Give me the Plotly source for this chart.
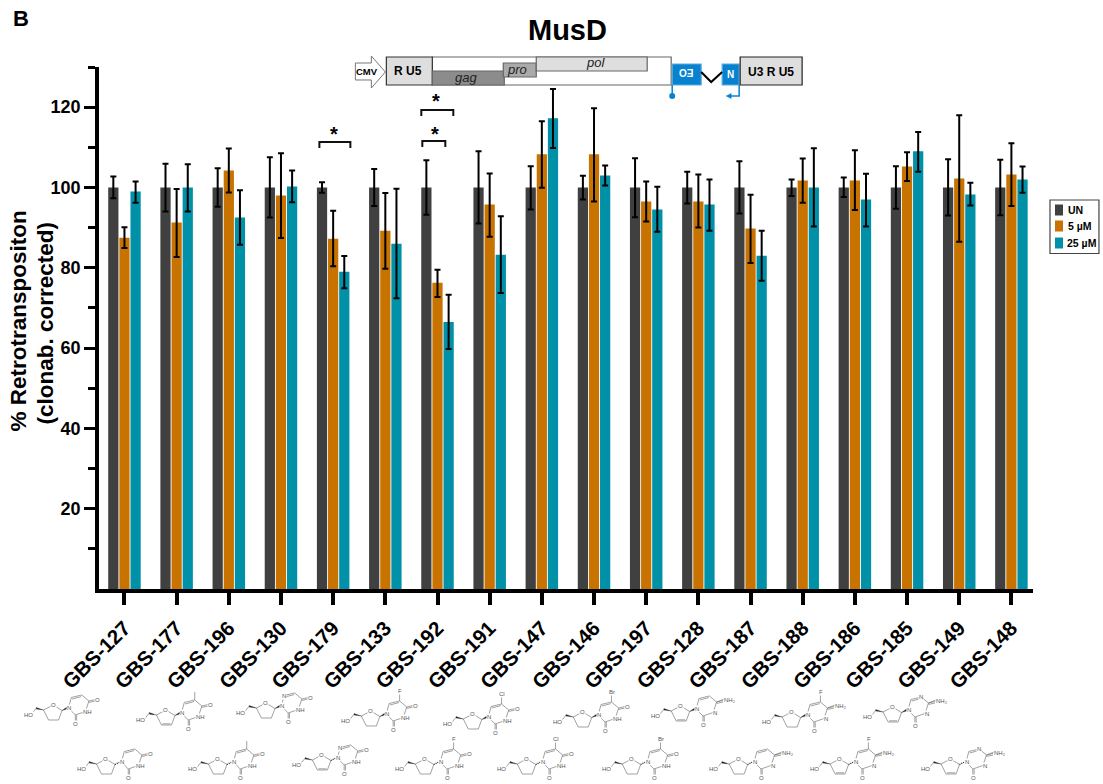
import plotly.graph_objects as go

W, H = 1103, 784
ML, MR, MT, MB = 98.5, 70, 67, 195
compounds = ["GBS-127","GBS-177","GBS-196","GBS-130","GBS-179","GBS-133","GBS-192","GBS-191","GBS-147",
             "GBS-146","GBS-197","GBS-128","GBS-187","GBS-188","GBS-186","GBS-185","GBS-149","GBS-148"]
un_values = [100]*18
un_top = [102.7,105.9,104.8,107.5,101.3,104.6,106.8,109,105.3,102.9,107.3,103.9,106.5,102,102.5,105.3,107,106.9]
un_bot = [97.3,94,95.2,92.5,98.7,95.4,93.2,91,94.5,97,92.6,96,93.5,97.9,97.6,94.7,93,93.1]
low_values = [87.5,91.25,104.25,98,87.25,89.25,76.25,95.75,108.25,108.25,96.5,96.5,89.75,101.75,101.75,105.25,102.25,103.25]
low_top = [90.1,99.6,109.7,108.5,94.2,98.6,79.5,103.5,116.5,119.75,101.5,103.25,98.2,107.2,109.25,108.8,118,111]
low_bot = [84.9,82.7,98.75,87.4,80.4,79.75,72.7,87.75,99.9,96.5,91.5,90,81.2,96.2,94.4,101.6,86.5,95.4]
high_values = [99,100,92.5,100.25,79,86,66.5,83.25,117.25,103,94.5,95.75,83,100,97,109,98.25,102]
high_top = [101.5,105.75,99.3,104.25,82.9,99.7,73.3,92.8,124.5,105.5,100.2,102,89.2,109.75,103.4,113.8,101.2,105.2]
high_bot = [96.2,94,85.75,96.3,74.9,72.4,59.8,73.7,109.8,100.5,89,89.25,76.75,90.25,90.3,103.9,95.5,98.7]
major_ticks = [20,40,60,80,100,120]
minor_ticks = [10,30,50,70,90,110,130]
series_names = ["UN","5 µM","25 µM"]
series_colors = ["#404040","#C87300","#0090A8"]

FONT = "Liberation Sans, Arial, sans-serif"
fig = go.Figure()
for name, color, vals, top, bot in zip(series_names, series_colors,
        [un_values, low_values, high_values], [un_top, low_top, high_top], [un_bot, low_bot, high_bot]):
    fig.add_bar(x=list(range(18)), y=vals, name=name, marker=dict(color=color, line=dict(width=0)),
                error_y=dict(type="data", symmetric=False,
                             array=[round(t-v,2) for t,v in zip(top,vals)],
                             arrayminus=[round(v-b,2) for b,v in zip(bot,vals)],
                             color="black", thickness=2, width=3))

shapes, anns = [], []
def X(p): return (p-ML)/(W-ML-MR)
def Y(p): return 1-(p-MT)/(H-MT-MB)
def rect(x0,y0,x1,y1,fill,line="#555",lw=1.2):
    shapes.append(dict(type="rect",xref="paper",yref="paper",x0=X(x0),x1=X(x1),y0=Y(y0),y1=Y(y1),
                       fillcolor=fill,line=dict(color=line,width=lw)))
def path(pts,color="black",lw=1.5,fill=None,close=False,dash=None):
    d="M"+" L".join(f"{X(a):.5f},{Y(b):.5f}" for a,b in pts)+(" Z" if close else "")
    s=dict(type="path",xref="paper",yref="paper",path=d,line=dict(color=color,width=lw))
    if fill: s["fillcolor"]=fill
    if dash: s["line"]["dash"]=dash
    shapes.append(s)
def text(x,y,t,size=12,color="black",bold=True,italic=False,bg=None,angle=0):
    if bold: t=f"<b>{t}</b>"
    if italic: t=f"<i>{t}</i>"
    a=dict(x=X(x),y=Y(y),xref="paper",yref="paper",text=t,showarrow=False,xanchor="center",yanchor="middle",
           font=dict(family=FONT,size=size,color=color),textangle=angle,borderpad=0)
    if bg: a["bgcolor"]=bg
    anns.append(a)

# headings
text(20,18,"B",22)
text(567,30,"MusD",29)
text(17,321,"% Retrotranspositon",22.5,angle=-90)
text(44,323,"(clonab. corrected)",22.5,angle=-90)

# construct diagram
path([(355,63),(371,63),(371,56),(385,72),(371,88),(371,80),(355,80)],color="#777",lw=1,fill="white",close=True)
text(367,71.5,"CMV",9.5)
rect(432,57,671,85,"white","#666")
rect(386,57,432,85,"#DEDEDE","#333")
text(408,71.5,"R U5",12)
rect(432,71,504,85,"#8C8C8C","#666")
text(466,77.5,"gag",13,"#222",False,True)
rect(503,63,536,77,"#AAAAAA","#666")
text(517,69.5,"pro",13,"#222",False,True)
rect(536,57,647,71,"#DEDEDE","#666")
text(595,63,"pol",13,"#222",False,True)
rect(672,64,701,85,"#0782CF","#5AA9DE")
text(686,73.5,"OƎ",10,"white")
rect(722,64,739,85,"#0782CF","#5AA9DE")
text(730.5,74,"N",10,"white")
rect(740,57,802,85,"#DEDEDE","#222")
text(771,72,"U3 R U5",12)
path([(701,72),(711,82),(722,72)],lw=2)
path([(672,85),(672,96)],color="#0782CF",lw=1.5)
shapes.append(dict(type="circle",xref="paper",yref="paper",x0=X(669),x1=X(675),y0=Y(99),y1=Y(93),
                   fillcolor="#0782CF",line=dict(width=0)))
path([(739,85),(739,96),(728,96)],color="#0782CF",lw=1.5)
path([(726,96),(731,93.5),(731,98.5)],color="#0782CF",lw=0.5,fill="#0782CF",close=True)

# significance brackets
for x0,x1,yb,xs,ys in [(319,350,142,334,134),(422,445,141,435,134),(421,453,110,436,101)]:
    path([(x0,yb+6),(x0,yb),(x1,yb),(x1,yb+6)],color="#111",lw=2)
    text(xs,ys,"*",20)

# legend
rect(1050,200,1099,253.5,"white","#444",1.2)
for n,c,ly,cx in zip(series_names,series_colors,[210,226,243],[1075.5,1080,1082]):
    rect(1055,ly-5.5,1063,ly+5.5,c,c,0)
    text(cx,ly,n,10.5)

# nucleoside structures
G="#555"
def molecule(x,y,kind,row,unsat):
    p=lambda a,b:(x+a,y+b)
    N1=p(0,0);C1=p(-6.5,2.5);O=p(-15.5,-3);C4=p(-25,2);C3=p(-20,12);C2=p(-10,12)
    C5s=p(-32.3,0.3);HO=p(-37,6)
    C6=p(2.8,-10.5);C5=p(13.3,-13);C4b=p(20.4,-7);N3=p(17,3.5);C2b=p(6.8,7);O2=p(6.8,13.5);O4=p(27,-8.5)
    for seg in ([C4,O,C1,C2,C3,C4],[C5s,HO],[N1,C6,C5,C4b,N3,C2b,N1],[C2b,O2],[C4b,O4]):
        path(seg,G,0.55)
    path([p(3.6,-9),p(12.6,-11.4)],G,0.55)
    path([p(8.1,7.2),p(8.1,13.5)],G,0.55)
    path([p(20.4,-5.6),p(27,-7)],G,0.55)
    path([C4,p(-32.3,-0.5),p(-32.3,1.1)],"#222",0.3,fill="#222",close=True)
    if unsat: path([p(-19,10.8),p(-11,10.8)],G,0.55)
    if row==1:
        path([C1,p(-1.5,-1),p(-1.5,1)],"#222",0.3,fill="#222",close=True)
    else:
        path([C1,p(-1.5,0)],"#222",1.2,dash="1px,1px")
    s=6
    text(x-40.5,y+7,"HO",s,G,False,bg="white")
    text(O[0],O[1],"O",s,G,False,bg="white")
    text(x+0.5,y,"N",s,G,False,bg="white")
    text(x+7,y+15.5,"O",s,G,False,bg="white")
    amino = kind in ("C","FC","azaC")
    text(x+19,y+4,"N" if amino else "NH",s,G,False,bg="white")
    if amino:
        path([C4b,p(28,-10)],G,0.55)
        text(x+34,y-9.5,"NH₂",s,G,False,bg="white")
    else:
        text(x+29,y-8.5,"O",s,G,False,bg="white")
    if kind=="aza":
        text(C6[0],C6[1],"N",s,G,False,bg="white")
    if kind=="azaC":
        text(C5[0],C5[1],"N",s,G,False,bg="white")
    lab={"T":None,"F":"F","Cl":"Cl","Br":"Br","FC":"F"}
    if kind in lab:
        path([C5,p(13.3,-21)],G,0.55)
        if lab[kind]: text(x+13.5,y-23,lab[kind],s,G,False,bg="white")

top_row=[(68,708,"U",0),(181,713,"T",1),(281,706,"aza",0),(386,714,"F",0),(488,717,"Cl",0),
         (598,715,"Br",0),(696,709,"C",1),(807,715,"FC",0),(908,710,"azaC",1)]
bot_row=[(121,762,"U",0),(233,762,"T",0),(337,758,"aza",1),(440,762,"F",0),(542,762,"Cl",0),
         (647,762,"Br",0),(754,762,"C",0),(855,762,"FC",1),(966,762,"azaC",1)]
for row,items in ((1,top_row),(2,bot_row)):
    for x,y,k,u in items:
        molecule(x,y,k,row,u)

fig.update_layout(
    width=W,height=H,margin=dict(l=ML,r=MR,t=MT,b=MB,autoexpand=False),
    paper_bgcolor="white",plot_bgcolor="white",showlegend=False,
    barmode="group",bargap=0.36,bargroupgap=0.08,
    shapes=shapes,annotations=anns,font=dict(family=FONT),
    xaxis=dict(range=[-0.488,17.414],tickvals=list(range(18)),ticktext=[f"<b>{c}</b>" for c in compounds],
               tickangle=-45,tickfont=dict(family=FONT,size=20.5,color="black"),ticks="outside",ticklen=12,tickwidth=3.5,tickcolor="black",
               showline=True,linecolor="black",linewidth=4,showgrid=False,zeroline=False,ticklabelstandoff=3),
    yaxis=dict(range=[0,130],tickvals=major_ticks,ticktext=[f"<b>{v}</b>" for v in major_ticks],
               tickfont=dict(family=FONT,size=18,color="black"),ticks="outside",ticklen=11,tickwidth=3,tickcolor="black",
               minor=dict(tickvals=minor_ticks,ticks="outside",ticklen=7,tickwidth=3,tickcolor="black",showgrid=False),
               showline=True,linecolor="black",linewidth=3.5,showgrid=False,zeroline=False),
)
fig.write_html("out.html",config=dict(displayModeBar=False),post_script="document.body.style.margin='0';")
